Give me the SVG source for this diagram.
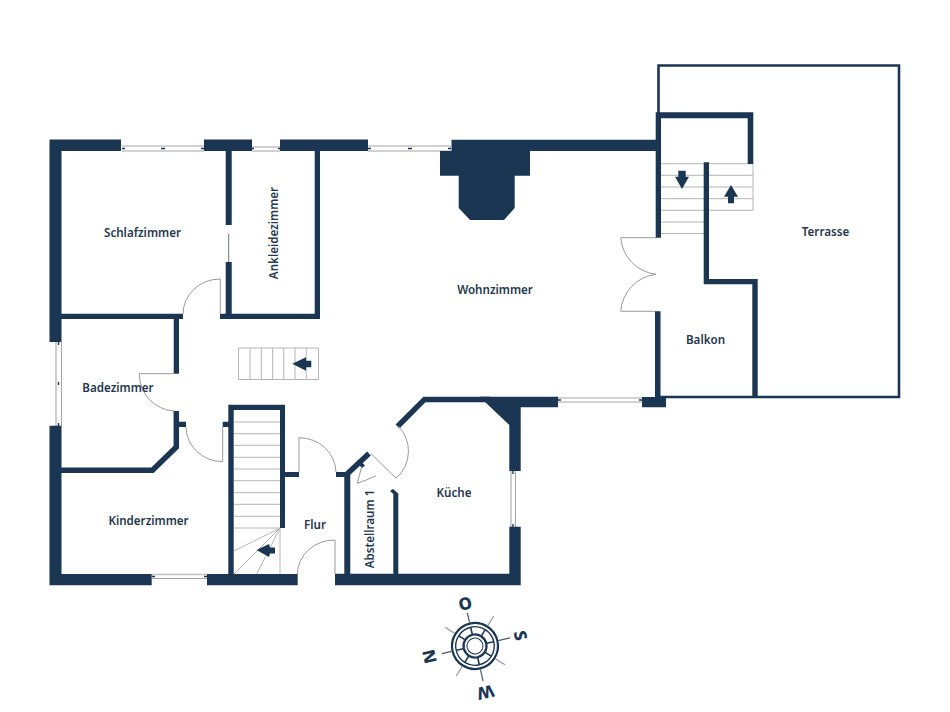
<svg xmlns="http://www.w3.org/2000/svg" width="950" height="712" viewBox="0 0 950 712">
<style>
.w{fill:#1b3653;stroke:none}
.ws{fill:none;stroke:#1b3653;stroke-width:5.5;stroke-linejoin:miter}
.t{fill:none;stroke:#1b3653;stroke-width:2.6}
.d{fill:none;stroke:#9a9a9a;stroke-width:1}
.s{fill:none;stroke:#b4b4b4;stroke-width:1}
.g1{fill:none;stroke:#c4c4c4;stroke-width:1.6}
.g2{fill:none;stroke:#8e8e8e;stroke-width:.8}
.k{fill:none;stroke:#1b3653;stroke-width:1.4}
.l{font-family:"Noto Sans","Open Sans",sans-serif;font-size:11.6px;font-weight:600;fill:#25384d;text-anchor:middle;dominant-baseline:central}
.c{font-family:"Noto Sans","Open Sans",sans-serif;font-size:17px;font-weight:800;fill:#1b3653;text-anchor:middle;dominant-baseline:central}
.sp{stroke:#1b3653;stroke-width:1.6;fill:none}
.m{stroke:#4a5b6c;stroke-width:1.2;fill:none}
.n{stroke:#8b97a3;stroke-width:1.1;fill:none}
</style>
<rect width="950" height="712" fill="#fff"/>

<g id="windows">
<path class="g1" d="M122 146H204M252 147H280M368 146H451M152 574.5H207M558 398H642M56 342V426M511 471V527"/>
<path class="g2" d="M122 151H204M252 151H280M368 151H451M152 578.5H207M558 402H642M61.5 342V426M515.5 471V527"/>
<path class="k" d="M122 148.5h3M161 148.5h4M201 148.5h3M252 148.5h2M278 148.5h2M368 148.5h3M408 148.5h4M448 148.5h3M152 576.5h3M204 576.5h3M58.5 342v3M58.5 382v3M58.5 423v3M513 471v3M513 524v3M558 400h3M639 400h3"/>
</g>

<g id="stairs">
<path class="s" d="M238.5 348H318.5V379.5H238.5ZM250 348V379.5M261.3 348V379.5M272.7 348V379.5M283.7 348V379.5M295 348V379.5M306.3 348V379.5"/>
<path class="s" d="M234 422H280M234 433.7H280M234 445.3H280M234 457.3H280M234 469H280M234 480.7H280M234 492.7H280M234 504.3H280M234 516.3H280M234 528H280M280 528L234 551M280 528L234 574M280 528L256.7 574M280 528V574"/>
<path class="s" d="M661 163.7H704M661 175.3H704M661 187H704M661 198.7H704M661 210.3H704M661 222H704M661 233.5H704"/>
<path class="s" d="M709 163.7H753V210.3H709M709 175.3H753M709 187H753M709 198.7H753"/>
</g>

<g id="arrows">
<path class="w" d="M292.3 363.7L306 357.3V360.7H311.3V367.3H306V370.7Z"/>
<path class="w" d="M256.5 550L269 544L270 547.6L275 547.6V553.4L270 553.4L269 557Z"/>
<path class="w" d="M678.3 170.7H685.7V176.7H689L682 189L675 176.7H678.3Z"/>
<path class="w" d="M731 185L738 196.7H734V203.3H728V196.7H724Z"/>
</g>

<g id="walls">
<path class="t" d="M658.5 114V65.5H899V397H660"/>
<path class="w" d="M49.5 139.5H121V151H61.5V342H49.5Z"/>
<path class="w" d="M204 139.5H252V151H204ZM280 139.5H368V151H280Z"/>
<path class="w" d="M451.5 139.7H656V151H530V175.7H514.7V208L504 220H470L458.7 208V175.7H440V151H451.5Z"/>
<path class="w" d="M225.7 151H231.7V225H225.7ZM225.7 262H231.7V314H225.7ZM314.7 151H320V319H220V313.7H314.7Z"/>
<path class="w" d="M61 313.7H183V319H61Z"/>
<path class="w" d="M173.7 319H179V373.7H173.7Z"/>
<path class="ws" d="M176.3 411V447L152.5 470.3H61"/>
<path class="w" d="M179 421.7H186V427H179ZM222.7 421.7H230V427H222.7Z"/>
<path class="w" d="M228.3 404.7H285V528H280V410H233.7V574H228.3Z"/>
<path class="w" d="M49.5 425.7H61.5V574H151.7V585.3H49.5Z"/>
<path class="w" d="M207 574H297.7V585.3H207Z"/>
<path class="w" d="M335 573.7H509.3V526.7H520.7V585.3H335Z"/>
<path class="w" d="M285 472H299V477H285ZM336 472H350.3V574H344.3V477H336Z"/>
<path class="ws" d="M346 475L369 453.5"/>
<path class="w" d="M361 461.5L365 465.5L362 468L358.5 464.5Z"/>
<path class="w" d="M393.3 574V494L390 491L393 489L398.3 493.5V574Z"/>
<path class="ws" d="M397.5 426.5L424.5 399.4H490"/>
<path class="w" d="M480 396.7H558V407.3H520.7V471H509.3V425L485 402H480Z"/>
<path class="w" d="M655.7 112.3H753.3V164H747.7V118.3H661V237.7H655.7Z"/>
<path class="w" d="M703.7 162.3H709V279H757.7V397H752.3V284.3H703.7Z"/>
<path class="w" d="M655 311.3H660.5V397H666V407.3H642V397H655Z"/>
</g>

<g id="doors">
<path class="d" d="M220.3 314V279A37 35 0 0 0 183 314"/>
<path class="d" d="M174 373.7H139.3A37 37 0 0 0 174 411"/>
<path class="d" d="M186 427A37 35 0 0 0 222.7 461.7V427"/>
<path class="d" d="M299 472V437.7A37 35 0 0 1 336 472"/>
<path class="d" d="M297.3 574A37 35 0 0 1 335 540V574"/>
<path class="d" d="M370.7 453.3L396 478.3A36 36 0 0 0 398.3 426"/>
<path class="d" d="M361.7 466.7L357.3 483.3Q367 480 376 475.7"/>
<path class="d" d="M656 237.7H620.7A40 40 0 0 0 656 274.3A40 40 0 0 0 620.7 311.3H655"/>
<path d="M228.7 234V262" fill="none" stroke="#6d7885" stroke-width="1"/>
</g>

<g id="labels">
<text class="l" x="142.5" y="232">Schlafzimmer</text>
<text class="l" transform="translate(273.5 233) rotate(-90)">Ankleidezimmer</text>
<text class="l" x="495" y="289">Wohnzimmer</text>
<text class="l" x="825.5" y="231">Terrasse</text>
<text class="l" x="705.5" y="339">Balkon</text>
<text class="l" x="118" y="387">Badezimmer</text>
<text class="l" x="148.5" y="520">Kinderzimmer</text>
<text class="l" x="315" y="524">Flur</text>
<text class="l" transform="translate(369.5 529) rotate(-90)">Abstellraum 1</text>
<text class="l" x="454" y="492">Küche</text>
</g>

<g id="compass" transform="translate(475 646) rotate(-13)">
<circle r="23" fill="none" stroke="#1b3653" stroke-width="2.2"/>
<circle r="19.3" fill="none" stroke="#1b3653" stroke-width="1.4"/>
<circle r="11.5" fill="none" stroke="#1b3653" stroke-width="2.2"/>
<circle r="8" fill="none" stroke="#1b3653" stroke-width="1"/>
<path class="sp" d="M0 -12V-19M0 12V19M-12 0H-19M12 0H19M8.5 -8.5L13.5 -13.5M-8.5 -8.5L-13.5 -13.5M8.5 8.5L13.5 13.5M-8.5 8.5L-13.5 13.5"/>
<path class="m" d="M0 -24V-34M0 24V36M-24 0H-34M24 0H36"/>
<path class="n" d="M17 -17L25 -25M-17 -17L-25 -25M17 17L25 25M-17 17L-25 25"/>
<text class="c" x="0" y="-44">O</text>
<text class="c" transform="translate(47 0) rotate(90)">S</text>
<text class="c" transform="translate(0 48) rotate(180)">W</text>
<text class="c" transform="translate(-47 0) rotate(-90)">N</text>
</g>
</svg>
